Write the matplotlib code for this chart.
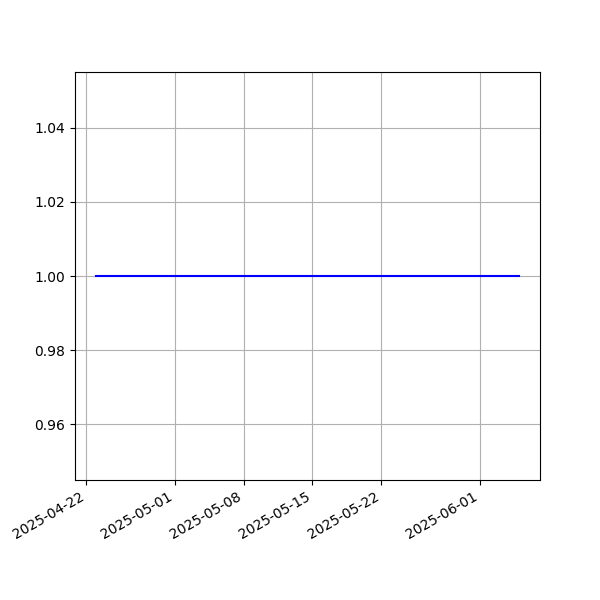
import matplotlib
matplotlib.use("Agg")
import matplotlib.pyplot as plt
import pandas as pd

# daily series, flat at 1.0
dates = pd.date_range("2025-04-23", "2025-06-05", freq="D")
values = [1.0] * len(dates)

fig, ax = plt.subplots(figsize=(6, 6), dpi=100)
ax.plot(dates, values, color="blue")
ax.grid(True)
fig.autofmt_xdate()
fig.savefig("out.png")
